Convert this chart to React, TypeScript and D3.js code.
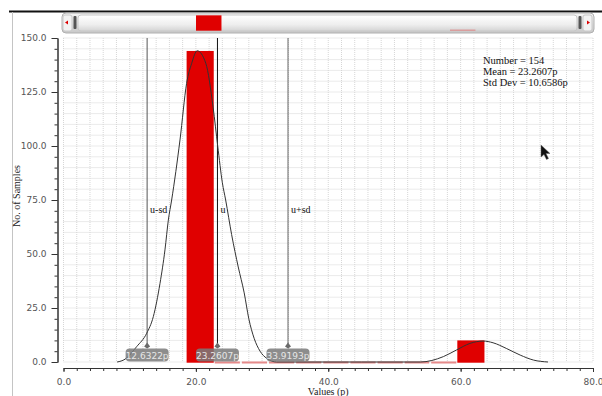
import React from "react";
import * as d3 from "d3";

// histogram bins (edges) and counts
const binStarts = [18.6, 22.7, 26.8, 30.9, 35.0, 39.1, 43.2, 47.3, 51.4, 55.4, 59.5];
const binEnds = [22.7, 26.8, 30.9, 35.0, 39.1, 43.2, 47.3, 51.4, 55.4, 59.5, 63.6];
const binCounts = [144, 0, 0, 0, 0, 0, 0, 0, 0, 0, 10];

// fitted density curve
const curveX = [8.1, 9.3, 11.05, 12.57, 13.57, 14.58, 15.33, 15.84, 16.34, 17.6, 18.6, 19.37, 20.2, 21.5, 22.6, 23.3, 24.0, 24.5, 25.4, 26.4, 27.3, 28.0, 28.8, 29.7, 30.7, 32.2, 45.0, 53.9, 57.4, 59.4, 61.4, 63.4, 64.9, 66.9, 69.0, 71.0, 73.2];
const curveY = [0, 1.3, 7.1, 13.3, 21, 36.4, 51.9, 65.7, 75, 102.8, 129, 138.3, 144.1, 138.3, 118, 100, 83, 75, 59, 44, 32, 20, 11, 5, 1.7, 0, 0, 0, 2.5, 5.6, 8.6, 9.7, 8.9, 6.3, 3.2, 0.9, 0];

const markerNames = ["u-sd", "u", "u+sd"];
const markerValues = [12.6322, 23.2607, 33.9193];
const markerColors = ["#555", "#111", "#666"];

const statLines = ["Number = 154", "Mean = 23.2607p", "Std Dev = 10.6586p"];

const xTicks = [0, 20, 40, 60, 80];
const yTicks = [0, 25, 50, 75, 100, 125, 150];

const serif = "'Liberation Serif', 'DejaVu Serif', serif";
const sans = "'DejaVu Sans', 'Liberation Sans', sans-serif";

export default function App() {
  const xAxisRef = React.useRef<SVGGElement>(null);
  const yAxisRef = React.useRef<SVGGElement>(null);

  const x = d3.scaleLinear().domain([0, 80]).range([63.5, 593]);
  const y = d3.scaleLinear().domain([0, 150]).range([362, 38]);
  // little histogram in the scroll bar
  const mx = d3.scaleLinear().domain([0, 80]).range([80.5, 577.3]);
  const my = d3.scaleLinear().domain([0, 150]).range([30.7, 14.7]);

  React.useEffect(() => {
    const gx = d3.select(xAxisRef.current);
    gx.selectAll("*").remove();
    gx.append("g")
      .call(d3.axisBottom(x).tickValues(x.ticks(40)).tickSize(3).tickFormat(() => "").tickSizeOuter(0));
    gx.append("g")
      .call(d3.axisBottom(x).tickValues(xTicks).tickSize(4).tickPadding(7).tickFormat(d3.format(".1f")).tickSizeOuter(0));
    gx.selectAll("path.domain").attr("stroke", "#333");
    gx.selectAll(".tick line").attr("stroke", "#333");
    gx.selectAll("text").attr("font-family", sans).attr("font-size", 9).attr("fill", "#555");

    const gy = d3.select(yAxisRef.current);
    gy.selectAll("*").remove();
    gy.append("g")
      .call(d3.axisLeft(y).tickValues(y.ticks(30)).tickSize(3).tickFormat(() => "").tickSizeOuter(0));
    gy.append("g")
      .call(d3.axisLeft(y).tickValues(yTicks).tickSize(6).tickPadding(5).tickFormat(d3.format(".1f")).tickSizeOuter(0));
    gy.selectAll("path.domain").attr("stroke", "#333");
    gy.selectAll(".tick line").attr("stroke", "#333");
    gy.selectAll("text").attr("font-family", sans).attr("font-size", 9).attr("fill", "#555");
  }, []);

  const line = d3
    .line<number>()
    .x((_, i) => x(curveX[i]))
    .y((d) => y(d))
    .curve(d3.curveMonotoneX);

  return (
    <svg width={602} height={396} style={{ position: "absolute", left: 0, top: 0 }}>
      <defs>
        <linearGradient id="sb" x1="0" y1="0" x2="0" y2="1">
          <stop offset="0" stopColor="#f6f6f6" />
          <stop offset="1" stopColor="#c8c8c8" />
        </linearGradient>
        <linearGradient id="track" x1="0" y1="0" x2="0" y2="1">
          <stop offset="0" stopColor="#ffffff" />
          <stop offset="0.6" stopColor="#eeeeee" />
          <stop offset="1" stopColor="#d4d4d4" />
        </linearGradient>
      </defs>
      <rect width={602} height={396} fill="#fff" />

      {/* frame */}
      <rect x={9} y={10.5} width={593} height={2} fill="#111" />
      <line x1={12.5} x2={12.5} y1={12} y2={396} stroke="#c4c4c4" />

      {/* grid */}
      <g stroke="#d6d6d6" strokeDasharray="1,1" strokeWidth={1}>
        {x.ticks(40).map((t) => (
          <line key={"gx" + t} x1={x(t)} x2={x(t)} y1={y(150)} y2={y(0)} />
        ))}
        {y.ticks(30).map((t) => (
          <line key={"gy" + t} x1={x(0)} x2={x(80)} y1={y(t)} y2={y(t)} />
        ))}
      </g>

      {/* scroll bar */}
      <rect x={62} y={13} width={532} height={20} rx={4} fill="url(#sb)" stroke="#b0b0b0" />
      <rect x={63} y={15} width={9} height={16} rx={2} fill="#f2f2f2" stroke="#c8c8c8" />
      <path d="M65,22.5 L68,20.5 L68,24.5 Z" fill="#d00" />
      <rect x={73.5} y={16} width={3} height={13} rx={1} fill="#555" />
      <rect x={78} y={15} width={499} height={16} rx={3} fill="url(#track)" stroke="#c8c8c8" />
      <rect x={578.5} y={16} width={3} height={13} rx={1} fill="#555" />
      <rect x={583} y={15} width={9} height={16} rx={2} fill="#f2f2f2" stroke="#c8c8c8" />
      <path d="M590,22.5 L587,20.5 L587,24.5 Z" fill="#d00" />
      {binCounts.map((c, i) =>
        c > 0 ? (
          <rect
            key={"m" + i}
            x={mx(binStarts[i])}
            y={my(c)}
            width={mx(binEnds[i]) - mx(binStarts[i])}
            height={Math.max(1, my(0) - my(c))}
            fill={c > 20 ? "#e00000" : "#d88"}
          />
        ) : null
      )}

      {/* bars */}
      {binCounts.map((c, i) =>
        c > 0 ? (
          <rect
            key={"b" + i}
            x={x(binStarts[i])}
            y={y(c)}
            width={x(binEnds[i]) - x(binStarts[i])}
            height={y(0) - y(c) + 0.7}
            fill="#e00000"
          />
        ) : (
          <rect
            key={"b" + i}
            x={x(binStarts[i]) + 1}
            y={y(0) - 0.5}
            width={x(binEnds[i]) - x(binStarts[i]) - 2}
            height={2}
            fill="#e58a8a"
          />
        )
      )}

      {/* marker lines */}
      {markerValues.map((v, i) => (
        <g key={"mk" + i}>
          <line x1={x(v)} x2={x(v)} y1={y(150)} y2={346} stroke={markerColors[i]} strokeWidth={1} />
          <text x={x(v) + 3} y={213} fontFamily={serif} fontSize={10} fill="#111">
            {markerNames[i]}
          </text>
        </g>
      ))}

      {/* density curve */}
      <path d={line(curveY) ?? ""} fill="none" stroke="#333" strokeWidth={1} />

      {/* value tags */}
      {markerValues.map((v, i) => (
        <g key={"tag" + i}>
          <path d={`M${x(v)},342.5 L${x(v) + 3},346.5 L${x(v)},348.5 L${x(v) - 3},346.5 Z`} fill="#6a6a6a" />
          <rect x={x(v) - 21.5} y={348.5} width={43} height={13} rx={4} fill="#7a7a7a" opacity={0.85} />
          <text x={x(v)} y={358.5} textAnchor="middle" fontFamily={sans} fontSize={9} fill="#e6e6e6">
            {v.toFixed(4) + "p"}
          </text>
        </g>
      ))}

      {/* stats */}
      {statLines.map((s, i) => (
        <text key={"s" + i} x={483} y={64 + i * 11} fontFamily={serif} fontSize={10.5} fill="#111">
          {s}
        </text>
      ))}

      {/* axes */}
      <g ref={xAxisRef} transform="translate(0,368)" />
      <g ref={yAxisRef} transform="translate(57.5,0)" />
      <text x={x(40)} y={395} textAnchor="middle" fontFamily={serif} fontSize={10} fill="#222">
        Values (p)
      </text>
      <text
        transform={`translate(20,196) rotate(-90)`}
        textAnchor="middle"
        fontFamily={serif}
        fontSize={10}
        fill="#222"
      >
        No. of Samples
      </text>

      {/* mouse pointer */}
      <path d="M541,145 L541,157 L544,154.5 L546.5,159.5 L548.5,158.5 L546,153.5 L550,153.5 Z" fill="#111" stroke="#666" strokeWidth={0.5} />
    </svg>
  );
}
